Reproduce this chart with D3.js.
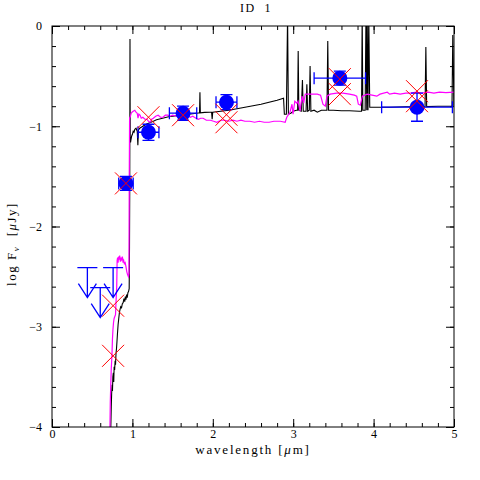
<!DOCTYPE html>
<html>
<head>
<meta charset="utf-8">
<script src="https://cdn.jsdelivr.net/npm/d3@7"></script>
<style>
body { margin: 0; background: #fff; }
text { font-family: "Liberation Serif", serif; }
</style>
</head>
<body>
<svg width="480" height="480"></svg>
<script>
// tick values
const xMajor = [0, 1, 2, 3, 4, 5]
const xMinor = d3.range(0, 5.01, 0.2)
const yMajor = [-4, -3, -2, -1, 0]
const yMinor = d3.range(-4, 0.01, 0.2)

// observed photometry (blue points)
const obsX    = [0.92, 1.20, 1.63, 2.17, 3.58, 4.54]
const obsY    = [-1.57, -1.06, -0.87, -0.76, -0.52, -0.81]
const obsXErr = [0.09, 0.13, 0.17, 0.13, 0.32, 0.44]
const obsYErr = [0.07, 0.08, 0.07, 0.075, 0.07, 0.14]

// upper limits
const limX = [0.44, 0.60, 0.76]
const limY = [-2.41, -2.61, -2.41]

// model fluxes (red crosses)
const modX = [0.76, 0.76, 0.92, 1.20, 1.63, 2.17, 2.17, 3.58, 3.58, 4.54, 4.54]
const modY = [-3.29, -2.79, -1.57, -0.91, -0.89, -0.885, -0.96, -0.53, -0.68, -0.65, -0.75]

// black model spectrum [wavelength, log F]
const blackSpec = [
  [0.730,-4.05],[0.737,-3.80],[0.742,-3.66],[0.748,-3.58],[0.752,-3.64],[0.757,-3.50],[0.763,-3.46],
  [0.768,-3.55],[0.773,-3.40],[0.779,-3.43],[0.785,-3.34],[0.790,-3.38],[0.796,-3.27],[0.802,-3.22],
  [0.808,-3.15],[0.815,-3.06],[0.822,-2.98],[0.830,-2.92],[0.838,-2.86],[0.846,-2.83],[0.855,-2.80],
  [0.865,-2.81],[0.875,-2.77],[0.885,-2.76],[0.895,-2.72],[0.905,-2.75],[0.912,-2.70],[0.920,-2.73],
  [0.928,-2.68],[0.936,-2.71],[0.944,-2.66],[0.952,-2.65],[0.960,-2.62],[0.964,-2.20],[0.967,-1.60],
  [0.970,-0.13],[0.973,-1.10],[0.977,-1.16],[0.983,-1.13],[0.990,-1.10],[1.000,-1.08],[1.010,-1.05],
  [1.020,-1.06],[1.030,-1.03],[1.045,-1.02],[1.060,-1.05],[1.068,-1.19],[1.075,-1.04],[1.090,-1.02],
  [1.110,-1.01],[1.130,-1.00],[1.150,-0.99],[1.170,-0.98],[1.200,-0.97],[1.230,-0.96],[1.260,-0.95],
  [1.300,-0.935],[1.350,-0.925],[1.400,-0.915],[1.450,-0.905],[1.500,-0.90],[1.550,-0.895],[1.600,-0.89],
  [1.650,-0.885],[1.700,-0.88],[1.750,-0.875],[1.800,-0.87],[1.835,-0.866],[1.840,-0.66],[1.845,-0.866],
  [1.900,-0.862],[1.960,-0.86],[1.985,-0.86],[1.992,-0.93],[1.999,-0.86],[2.100,-0.85],[2.200,-0.84],
  [2.300,-0.825],[2.400,-0.81],[2.500,-0.795],[2.600,-0.78],[2.700,-0.76],[2.800,-0.74],[2.880,-0.72],
  [2.890,-0.88],[2.915,-0.88],[2.930,0.10],[2.940,-0.88],[2.970,-0.87],[3.000,-0.85],[3.040,-0.84],
  [3.055,-0.84],[3.062,-0.25],[3.070,-0.84],[3.100,-0.85],[3.115,-0.54],[3.125,-0.85],[3.160,-0.85],
  [3.170,-0.58],[3.180,-0.85],[3.200,-0.84],[3.210,-0.40],[3.220,-0.85],[3.260,-0.84],[3.300,-0.86],
  [3.350,-0.84],[3.420,-0.84],[3.430,-0.15],[3.440,-0.84],[3.500,-0.84],[3.600,-0.845],[3.700,-0.845],
  [3.820,-0.85],[3.850,-0.85],[3.858,0.10],[3.866,-0.84],[3.895,-0.84],[3.905,0.10],[3.915,-0.84],
  [3.920,0.10],[3.930,-0.84],[3.940,0.10],[3.952,-0.81],[4.000,-0.81],[4.100,-0.81],[4.200,-0.81],
  [4.300,-0.808],[4.400,-0.806],[4.500,-0.805],[4.640,-0.804],[4.650,-0.21],[4.660,-0.804],[4.800,-0.80],
  [4.975,-0.80],[4.985,-0.09],[5.000,-0.80]
]

// magenta model spectrum [wavelength, log F]
const magSpec = [
  [0.720,-4.05],[0.725,-3.75],[0.730,-3.60],[0.737,-3.42],[0.745,-3.30],[0.752,-3.12],[0.758,-3.03],
  [0.765,-2.96],[0.772,-2.92],[0.780,-2.90],[0.790,-2.88],[0.798,-2.72],[0.805,-2.60],[0.810,-2.34],
  [0.816,-2.31],[0.822,-2.36],[0.828,-2.30],[0.835,-2.33],[0.842,-2.29],[0.850,-2.35],[0.858,-2.31],
  [0.866,-2.33],[0.875,-2.30],[0.884,-2.36],[0.892,-2.34],[0.900,-2.37],[0.910,-2.36],[0.920,-2.40],
  [0.930,-2.45],[0.940,-2.48],[0.950,-2.50],[0.957,-2.47],[0.961,-1.50],[0.965,-0.92],[0.975,-0.90],
  [0.985,-0.87],[0.995,-0.86],[1.010,-0.85],[1.030,-0.84],[1.045,-0.86],[1.060,-0.87],[1.070,-0.92],
  [1.080,-0.88],[1.095,-0.89],[1.110,-0.92],[1.130,-0.91],[1.155,-0.93],[1.180,-0.93],[1.200,-0.95],
  [1.220,-0.96],[1.240,-0.93],[1.260,-0.92],[1.290,-0.90],[1.320,-0.89],[1.350,-0.91],[1.380,-0.91],
  [1.410,-0.89],[1.440,-0.89],[1.470,-0.90],[1.500,-0.89],[1.550,-0.90],[1.590,-0.90],[1.630,-0.89],
  [1.680,-0.89],[1.720,-0.91],[1.750,-0.90],[1.790,-0.92],[1.820,-0.93],[1.850,-0.92],[1.880,-0.92],
  [1.920,-0.94],[1.970,-0.94],[2.010,-0.95],[2.050,-0.96],[2.100,-0.94],[2.150,-0.94],[2.200,-0.95],
  [2.250,-0.94],[2.300,-0.95],[2.350,-0.94],[2.400,-0.95],[2.460,-0.95],[2.520,-0.96],[2.580,-0.95],
  [2.640,-0.96],[2.700,-0.96],[2.760,-0.95],[2.840,-0.95],[2.900,-0.96],[2.920,-0.91],[2.960,-0.86],
  [2.985,-0.78],[2.998,-0.88],[3.020,-0.75],[3.045,-0.77],[3.060,-0.75],[3.085,-0.85],[3.110,-0.70],
  [3.130,-0.77],[3.150,-0.68],[3.210,-0.68],[3.300,-0.68],[3.340,-0.69],[3.370,-0.78],[3.400,-0.80],
  [3.420,-0.70],[3.460,-0.68],[3.540,-0.67],[3.620,-0.67],[3.700,-0.68],[3.760,-0.69],[3.790,-0.70],
  [3.810,-0.78],[3.835,-0.79],[3.860,-0.70],[3.920,-0.68],[3.980,-0.69],[4.040,-0.70],[4.080,-0.68],
  [4.170,-0.66],[4.200,-0.68],[4.260,-0.67],[4.330,-0.68],[4.400,-0.67],[4.460,-0.67],[4.530,-0.66],
  [4.600,-0.67],[4.680,-0.66],[4.750,-0.67],[4.820,-0.66],[4.900,-0.665],[5.000,-0.66]
]

const svg = d3.select('svg')
const x = d3.scaleLinear().domain([0, 5]).range([52, 454])
const y = d3.scaleLinear().domain([-4, 0]).range([427, 26])

const font = '"Liberation Serif", serif'

// axes, ticks pointing inward on all four sides
function ax(axis, tx, ty, vals, size, fmt, pad) {
  const g = svg.append('g').attr('transform', `translate(${tx},${ty})`)
    .call(axis.tickValues(vals).tickSize(size).tickPadding(pad).tickFormat(fmt))
  g.select('.domain').remove()
  g.attr('font-family', font).attr('font-size', 12)
  g.selectAll('line').attr('stroke', '#000')
  return g
}
ax(d3.axisBottom(x), 0, y(-4), xMajor, -8, d3.format('d'), 2)
ax(d3.axisBottom(x), 0, y(-4), xMinor, -4, '', 2)
ax(d3.axisTop(x), 0, y(0), xMajor, -8, '', 2)
ax(d3.axisTop(x), 0, y(0), xMinor, -4, '', 2)
ax(d3.axisLeft(y), x(0), 0, yMajor, -8, d3.format('d'), 10)
ax(d3.axisLeft(y), x(0), 0, yMinor, -4, '', 10)
ax(d3.axisRight(y), x(5), 0, yMajor, -8, '', 2)
ax(d3.axisRight(y), x(5), 0, yMinor, -4, '', 2)

svg.append('defs').append('clipPath').attr('id', 'plot')
  .append('rect').attr('x', x(0)).attr('y', y(0))
  .attr('width', x(5) - x(0)).attr('height', y(-4) - y(0))

const line = d3.line().x(d => x(d[0])).y(d => y(d[1]))
const spec = svg.append('g').attr('clip-path', 'url(#plot)')
spec.append('path').attr('d', line(blackSpec))
  .attr('fill', 'none').attr('stroke', '#000').attr('stroke-width', 1.1)
spec.append('path').attr('d', line(magSpec))
  .attr('fill', 'none').attr('stroke', '#ff00ff').attr('stroke-width', 1.2)

// frame
svg.append('rect').attr('x', x(0)).attr('y', y(0))
  .attr('width', x(5) - x(0)).attr('height', y(-4) - y(0))
  .attr('fill', 'none').attr('stroke', '#000').attr('stroke-width', 1)

// observed points with error bars
const blue = '#0000ff'
const cap = 6
const eb = svg.append('g').attr('stroke', blue).attr('stroke-width', 1.3).attr('fill', 'none')
obsX.forEach((v, i) => {
  const cx = x(v), cy = y(obsY[i])
  const x0 = x(v - obsXErr[i]), x1 = x(v + obsXErr[i])
  const y0 = y(obsY[i] - obsYErr[i]), y1 = y(obsY[i] + obsYErr[i])
  eb.append('path').attr('d',
    `M${x0},${cy}H${x1}M${x0},${cy - cap}V${cy + cap}M${x1},${cy - cap}V${cy + cap}` +
    `M${cx},${y0}V${y1}M${cx - cap},${y0}H${cx + cap}M${cx - cap},${y1}H${cx + cap}`)
})
svg.append('g').selectAll('circle').data(obsX).join('circle')
  .attr('cx', d => x(d)).attr('cy', (d, i) => y(obsY[i])).attr('r', 7.5)
  .attr('fill', blue)

// upper limits
const ul = svg.append('g').attr('stroke', blue).attr('stroke-width', 1.3).attr('fill', 'none')
limX.forEach((v, i) => {
  const cx = x(v), cy = y(limY[i]), tip = cy + 30
  ul.append('path').attr('d',
    `M${cx - 10},${cy}H${cx + 10}M${cx},${cy}V${tip}M${cx - 9},${tip - 14}L${cx},${tip}L${cx + 9},${tip - 14}`)
})

// model crosses
const rx = svg.append('g').attr('stroke', '#ff0000').attr('stroke-width', 1).attr('fill', 'none')
modX.forEach((v, i) => {
  const cx = x(v), cy = y(modY[i]), s = 11
  rx.append('path').attr('d', `M${cx - s},${cy - s}L${cx + s},${cy + s}M${cx - s},${cy + s}L${cx + s},${cy - s}`)
})

// labels
svg.append('text').attr('x', 256).attr('y', 12).attr('text-anchor', 'middle')
  .attr('font-size', 12).style('white-space', 'pre').attr('letter-spacing', 1.5)
  .text('ID  1')

const xl = svg.append('text').attr('x', x(2.5)).attr('y', 454).attr('text-anchor', 'middle')
  .attr('font-size', 13).attr('letter-spacing', 1.8)
xl.append('tspan').text('wavelength [')
xl.append('tspan').attr('font-style', 'italic').text('μ')
xl.append('tspan').text('m]')

const yl = svg.append('text').attr('transform', 'translate(16,244) rotate(-90)')
  .attr('text-anchor', 'middle').attr('font-size', 13).attr('letter-spacing', 1.5)
  .style('white-space', 'pre')
yl.append('tspan').text('log F')
yl.append('tspan').attr('font-size', 9).attr('dy', 3).attr('font-style', 'italic').text('ν')
yl.append('tspan').attr('dy', -3).text('  [')
yl.append('tspan').attr('font-style', 'italic').text('μ')
yl.append('tspan').text('Jy]')
</script>
</body>
</html>
